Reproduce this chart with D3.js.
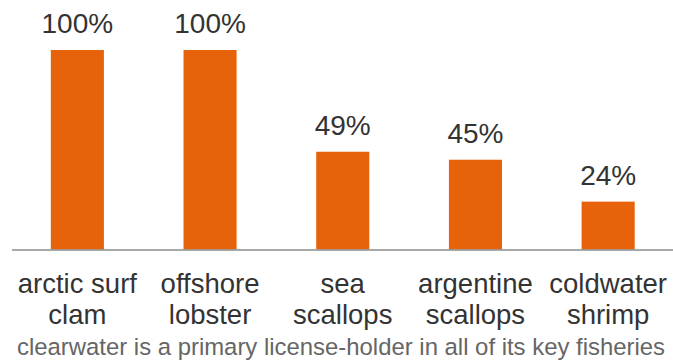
<!DOCTYPE html>
<html>
<head>
<meta charset="utf-8">
<script src="https://cdn.jsdelivr.net/npm/d3@7"></script>
<style>
  html, body { margin: 0; padding: 0; background: #fff; }
  svg { display: block; font-family: "Liberation Sans", Arial, sans-serif; }
</style>
</head>
<body>
<svg id="chart" width="673" height="364"></svg>
<script>
// Share of each fishery's licences held
const categories = ["arctic surf clam", "offshore lobster", "sea scallops", "argentine scallops", "coldwater shrimp"];
const labelLines = [["arctic surf", "clam"], ["offshore", "lobster"], ["sea", "scallops"], ["argentine", "scallops"], ["coldwater", "shrimp"]];
const shares = [100, 100, 49, 45, 24];
const footnote = "clearwater is a primary license-holder in all of its key fisheries";

const svg = d3.select("#chart");
const baseY = 249.5;

const x = d3.scaleBand()
  .domain(categories)
  .range([11, 674.5])
  .paddingInner(0.6)
  .paddingOuter(0.3);

const y = d3.scaleLinear()
  .domain([0, 100])
  .range([baseY, 50]);

// bars
svg.append("g").selectAll("rect")
  .data(categories)
  .join("rect")
  .attr("x", d => x(d))
  .attr("width", x.bandwidth())
  .attr("y", (d, i) => y(shares[i]))
  .attr("height", (d, i) => baseY - y(shares[i]))
  .attr("fill", "#E6620B");

// value labels
svg.append("g").selectAll("text")
  .data(categories)
  .join("text")
  .attr("x", d => x(d) + x.bandwidth() / 2)
  .attr("y", (d, i) => y(shares[i]) - 17)
  .attr("text-anchor", "middle")
  .attr("font-size", 28)
  .attr("fill", "#333")
  .text((d, i) => shares[i] + "%");

// baseline
svg.append("line")
  .attr("x1", 12).attr("x2", 673)
  .attr("y1", baseY + 0.5).attr("y2", baseY + 0.5)
  .attr("stroke", "#8c8c8c")
  .attr("stroke-width", 1.5);

// category labels on two lines
const cat = svg.append("g").selectAll("text")
  .data(categories)
  .join("text")
  .attr("x", d => x(d) + x.bandwidth() / 2)
  .attr("y", 293)
  .attr("text-anchor", "middle")
  .attr("font-size", 27.5)
  .attr("fill", "#333");
cat.each(function(d, i) {
  const t = d3.select(this);
  labelLines[i].forEach((ln, k) => {
    t.append("tspan")
      .attr("x", x(d) + x.bandwidth() / 2)
      .attr("dy", k === 0 ? 0 : 31)
      .text(ln);
  });
});

// footnote
svg.append("text")
  .attr("x", 341)
  .attr("y", 355)
  .attr("text-anchor", "middle")
  .attr("font-size", 23.9)
  .attr("fill", "#666")
  .text(footnote);
</script>
</body>
</html>
